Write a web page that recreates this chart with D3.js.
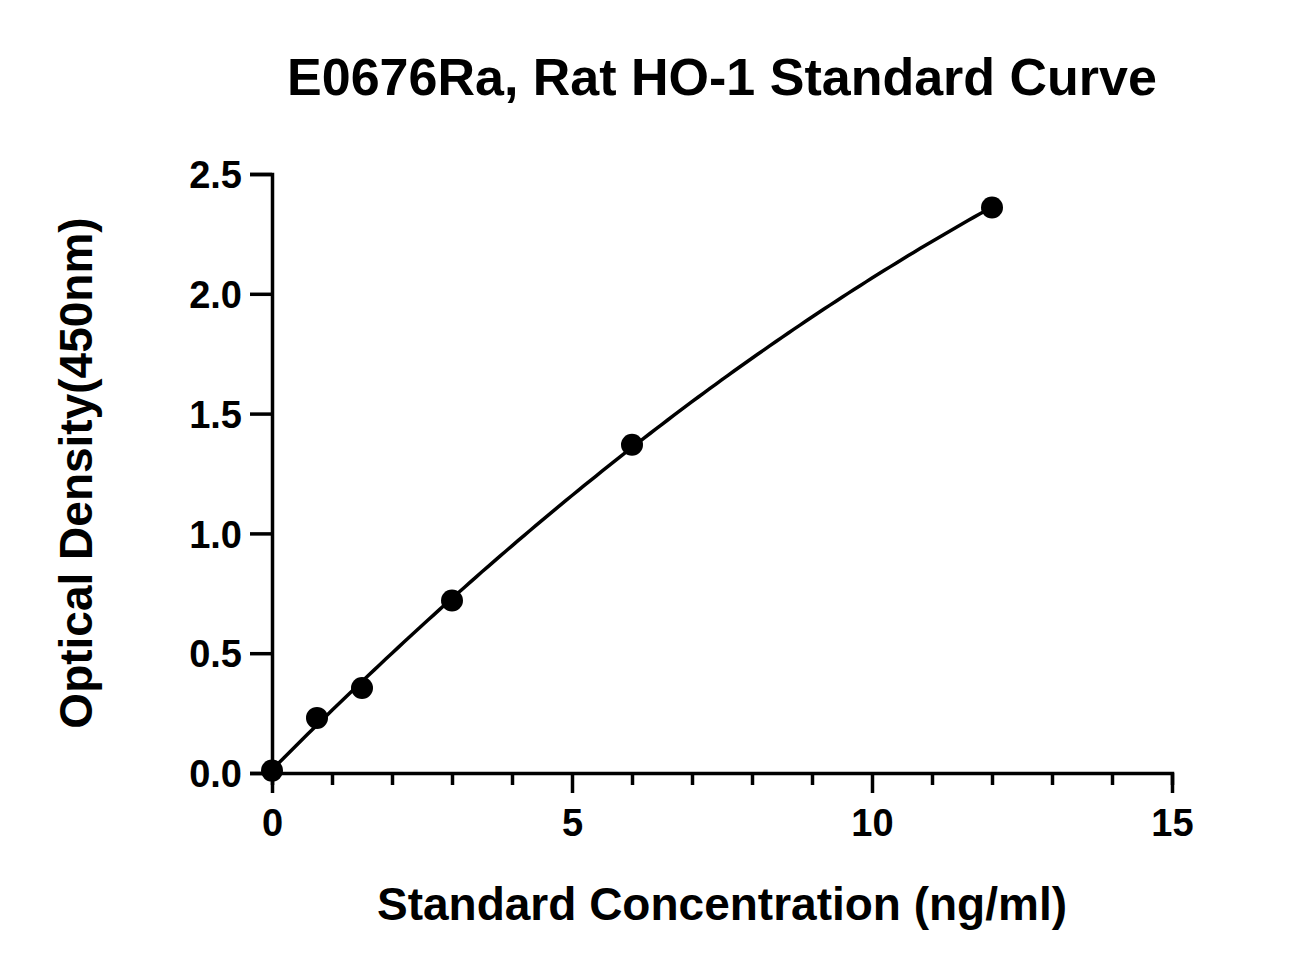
<!DOCTYPE html>
<html><head><meta charset="utf-8">
<script src="https://cdn.jsdelivr.net/npm/d3@7"></script>
<style>body{margin:0;background:#fff}text{font-family:"Liberation Sans",Arial,sans-serif;font-weight:bold}</style>
</head><body><svg id="chart" width="1311" height="975"></svg>
<script>
let concentration = [0, 0.75, 1.5, 3, 6, 12]
let density = [0.01, 0.23, 0.355, 0.72, 1.37, 2.36]
let xTicks = [0, 5, 10, 15]
let yTicks = [0, 0.5, 1.0, 1.5, 2.0, 2.5]

let svg = d3.select("#chart")
let x = d3.scaleLinear().domain([0, 15]).range([272, 1172])
let y = d3.scaleLinear().domain([0, 2.5]).range([773, 174])

// x axis
let gx = svg.append("g").attr("transform", "translate(0,773)")
gx.call(d3.axisBottom(x).tickValues(d3.range(0, 16)).tickSize(12).tickFormat(""))
gx.call(g => g.selectAll(".tick").filter(d => d % 5 === 0).select("line").attr("y2", 20))
gx.append("g").call(d3.axisBottom(x).tickValues(xTicks).tickSize(0).tickPadding(36).tickFormat(d3.format("d")))
gx.selectAll(".domain").filter((d, i) => i > 0).remove()

// y axis
let gy = svg.append("g").attr("transform", "translate(272,0)")
gy.call(d3.axisLeft(y).tickValues(yTicks).tickSize(22).tickPadding(8).tickFormat(d3.format(".1f")))

svg.selectAll(".domain, .tick line").attr("stroke", "#000").attr("stroke-width", 3.5)
svg.selectAll(".tick text").attr("font-size", 38).attr("fill", "#000")
gy.selectAll(".tick text").attr("dy", "0.36em")

// quadratic least-squares fit through the standards
function fitQuad(xs, ys) {
  let S = [[0,0,0],[0,0,0],[0,0,0]], b = [0,0,0]
  xs.forEach((xv, i) => {
    let p = [1, xv, xv * xv]
    for (let r = 0; r < 3; r++) { b[r] += p[r] * ys[i]; for (let c = 0; c < 3; c++) S[r][c] += p[r] * p[c] }
  })
  for (let i = 0; i < 3; i++) for (let j = i + 1; j < 3; j++) {
    let f = S[j][i] / S[i][i]
    for (let k = 0; k < 3; k++) S[j][k] -= f * S[i][k]
    b[j] -= f * b[i]
  }
  let c = [0,0,0]
  for (let i = 2; i >= 0; i--) { let s = b[i]; for (let k = i + 1; k < 3; k++) s -= S[i][k] * c[k]; c[i] = s / S[i][i] }
  return xv => c[0] + c[1] * xv + c[2] * xv * xv
}
let fit = fitQuad(concentration, density)
let curvePts = d3.range(0, 12.01, 0.1).map(c => [c, fit(c)])

svg.append("path").datum(curvePts)
  .attr("d", d3.line().x(d => x(d[0])).y(d => y(d[1])))
  .attr("fill", "none").attr("stroke", "#000").attr("stroke-width", 3.5)

let pts = concentration.map((c, i) => [c, density[i]])
svg.selectAll("circle").data(pts).enter().append("circle")
  .attr("cx", d => x(d[0])).attr("cy", d => y(d[1])).attr("r", 11).attr("fill", "#000")

svg.append("text").attr("x", 722).attr("y", 95).attr("text-anchor", "middle").attr("font-size", 52).text("E0676Ra, Rat HO-1 Standard Curve")
svg.append("text").attr("x", 722).attr("y", 920).attr("text-anchor", "middle").attr("font-size", 46).text("Standard Concentration (ng/ml)")
svg.append("text").attr("transform", "translate(92,473) rotate(-90)").attr("text-anchor", "middle").attr("font-size", 46).text("Optical Density(450nm)")
</script></body></html>
